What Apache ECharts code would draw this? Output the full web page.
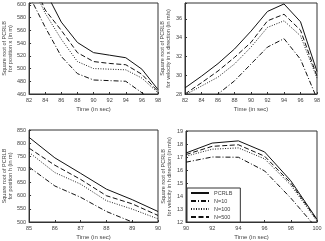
<!DOCTYPE html>
<html><head><meta charset="utf-8">
<script src="https://cdn.jsdelivr.net/npm/echarts@6/dist/echarts.min.js"></script>
<style>html,body{margin:0;padding:0;background:#fff}#c{width:325px;height:241px}</style>
</head><body><div id="c"></div>
<script>
// ---- data ----
const seriesNames = ['PCRLB', 'N=10', 'N=100', 'N=500'];

const timeA = [82, 84, 86, 88, 90, 92, 94, 96, 98];
const posX_PCRLB = [680, 622, 573, 541, 525, 521, 517, 499, 467];
const posX_N10   = [615, 565, 519, 492, 482, 481, 480, 462, 440];
const posX_N100  = [640, 587, 546, 511, 500, 499, 498, 485, 462];
const posX_N500  = [650, 592, 560, 525, 511, 508, 506, 491, 464];

const velX_PCRLB = [28.65, 29.9, 31.24, 32.8, 34.7, 36.8, 37.6, 35.7, 30.4];
const velX_N10   = [25.0, 26.5, 28.0, 29.4, 31.2, 33.0, 33.9, 31.7, 27.5];
const velX_N100  = [27.9, 28.85, 29.8, 31.2, 33.0, 35.1, 35.8, 34.2, 29.7];
const velX_N500  = [28.0, 29.2, 30.45, 31.9, 33.5, 35.8, 36.5, 34.8, 29.9];

const timeC = [85, 86, 87, 88, 89, 90];
const posH_PCRLB = [822, 744, 685, 625, 585, 540];
const posH_N10   = [709, 637, 594, 540, 500, 470];
const posH_N100  = [765, 688, 644, 581, 549, 512];
const posH_N500  = [781, 716, 662, 600, 569, 525];

const timeD = [90, 92, 94, 96, 98, 100];
const velH_PCRLB = [17.31, 18.07, 18.24, 17.39, 15.17, 12.2];
const velH_N10   = [16.6, 17.0, 16.98, 15.93, 13.84, 11.5];
const velH_N100  = [17.06, 17.6, 17.7, 16.86, 14.84, 12.07];
const velH_N500  = [17.19, 17.82, 17.94, 17.06, 15.0, 12.15];

const yNames = [
  'Square root of PCRLB\nfor position x (in m)',
  'Square root of PCRLB\nfor velocity in x direction (in m/s)',
  'Square root of PCRLB\nfor position h (in m)',
  'Square root of PCRLB\nfor velocity in h direction (in m/s)'
];
const xName = 'Time (in sec)';

// ---- chart ----
const FONT = 'Liberation Sans, Arial, sans-serif';
const TXT = '#444';
const styles = [
  {type: 'solid', width: 1, color: '#111'},
  {type: [5, 2, 1, 2], width: 1, color: '#111'},
  {type: [1, 1.5], width: 1, color: '#222'},
  {type: [5, 2.5], width: 1, color: '#111'}
];

const grids = [
  {left: 27, top: 3, width: 131, height: 91},
  {left: 185, top: 3, width: 132, height: 91},
  {left: 27, top: 130, width: 131, height: 94},
  {left: 186, top: 131, width: 131, height: 93}
];
const xCfg = [
  {min: 82, max: 98, interval: 2},
  {min: 82, max: 98, interval: 2},
  {min: 85, max: 90, interval: 1},
  {min: 90, max: 100, interval: 2}
];
const yCfg = [
  {min: 460, max: 603, interval: 20},
  {min: 28, max: 37.7, interval: 2},
  {min: 500, max: 850, interval: 50},
  {min: 12, max: 19, interval: 1}
];
const nameGaps = [14, 10, 14, 10];

const xAxis = xCfg.map((c, i) => ({
  type: 'value', gridIndex: i, min: c.min, max: c.max, interval: c.interval,
  name: xName, nameLocation: 'middle', nameGap: 12,
  nameTextStyle: {fontSize: 6, color: TXT, fontFamily: FONT},
  axisLine: {show: true, lineStyle: {color: '#333', width: 1}},
  axisTick: {show: true, inside: true, length: 2, lineStyle: {color: '#333'}},
  axisLabel: {fontSize: 5.5, color: TXT, fontFamily: FONT, margin: 3},
  splitLine: {show: false}
}));
const yAxis = yCfg.map((c, i) => ({
  type: 'value', gridIndex: i, min: c.min, max: c.max, interval: c.interval,
  name: yNames[i], nameLocation: 'middle', nameGap: nameGaps[i], nameRotate: 90,
  nameTextStyle: {fontSize: 5.5, color: TXT, fontFamily: FONT, lineHeight: 6},
  axisLine: {show: true, lineStyle: {color: '#333', width: 1}},
  axisTick: {show: true, inside: true, length: 2, lineStyle: {color: '#333'}},
  axisLabel: {fontSize: 5.5, color: TXT, fontFamily: FONT, margin: 3,
    formatter: v => (Math.abs((v - c.min) / c.interval - Math.round((v - c.min) / c.interval)) < 1e-6) ? String(v) : ''},
  splitLine: {show: false}
}));

const panels = [
  {x: timeA, ys: [posX_PCRLB, posX_N10, posX_N100, posX_N500]},
  {x: timeA, ys: [velX_PCRLB, velX_N10, velX_N100, velX_N500]},
  {x: timeC, ys: [posH_PCRLB, posH_N10, posH_N100, posH_N500]},
  {x: timeD, ys: [velH_PCRLB, velH_N10, velH_N100, velH_N500]}
];
const series = [];
panels.forEach((p, gi) => {
  p.ys.forEach((ys, si) => {
    series.push({
      type: 'line', name: seriesNames[si], xAxisIndex: gi, yAxisIndex: gi,
      data: p.x.map((t, k) => [t, ys[k]]),
      symbol: 'none', clip: true, animation: false,
      lineStyle: styles[si], itemStyle: {color: styles[si].color}
    });
  });
});

const chart = echarts.init(document.getElementById('c'), null, {renderer: 'canvas'});
chart.setOption({
  backgroundColor: '#fff',
  animation: false,
  grid: grids.map(g => Object.assign({show: true, borderColor: '#333', borderWidth: 1, backgroundColor: '#fff'}, g)),
  xAxis, yAxis, series,
  legend: {
    show: true, data: seriesNames, orient: 'vertical', left: 187, top: 188,
    itemWidth: 18, itemHeight: 6, itemGap: 2, padding: [2, 8, 2, 3],
    backgroundColor: '#fff', borderColor: '#333', borderWidth: 1, borderRadius: 0,
    itemStyle: {opacity: 0},
    textStyle: {fontSize: 5.5, color: TXT, fontFamily: FONT}
  }
});
</script></body></html>
